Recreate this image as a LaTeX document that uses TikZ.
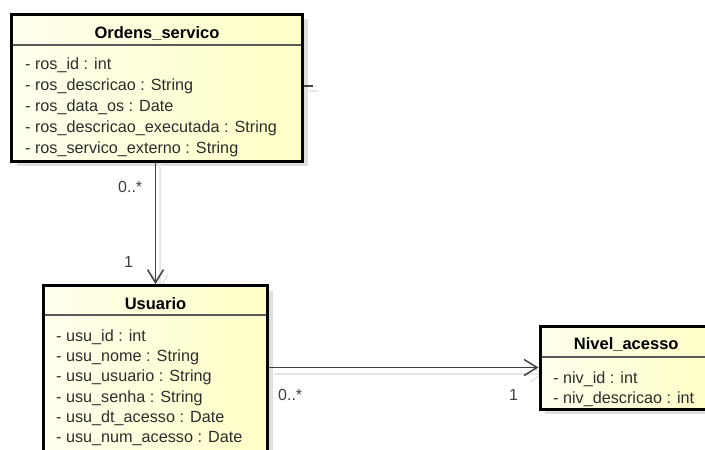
\documentclass[tikz,border=0pt]{standalone}
\usepackage{fontspec}
\setmainfont{Liberation Sans}
\usetikzlibrary{arrows.meta,shadows}
\definecolor{boxlight}{RGB}{255,255,238}
\definecolor{boxdeep}{RGB}{255,255,198}
\definecolor{shadowgray}{RGB}{222,222,222}
\definecolor{linkgray}{RGB}{64,64,64}
\definecolor{ghost}{RGB}{230,230,230}
\definecolor{txtgray}{RGB}{45,45,45}
\definecolor{sepgray}{RGB}{90,90,90}

\begin{document}
\begin{tikzpicture}[x=1pt,y=-1pt,
  classbox/.style={draw=black, line width=3pt, rectangle, inner sep=0pt,
    anchor=north west, left color=boxlight, right color=boxdeep,
    drop shadow={shadow xshift=5pt, shadow yshift=-5pt, fill=shadowgray, opacity=1}},
  sepline/.style={draw=sepgray, line width=1.2pt, shorten <=3pt, shorten >=3pt},
  title/.style={font=\bfseries\fontsize{16.5}{19}\selectfont, anchor=base, inner sep=0pt},
  attr/.style={font=\fontsize{16.2}{18}\selectfont, text=txtgray, anchor=base west, inner sep=0pt},
  mult/.style={font=\fontsize{16}{18}\selectfont, text=linkgray, anchor=base west, inner sep=0pt},
  link/.style={draw=linkgray, line width=1.5pt},
  ghostlink/.style={draw=ghost, line width=1.5pt},
  openhead/.style={-{Straight Barb[length=13pt, width=16pt, line width=1.5pt]}}
]
\useasboundingbox (0,0) rectangle (705,450);
\clip (0,0) rectangle (705,450);

% faint connector shadows
\coordinate (stub) at (313,86);
\draw[ghostlink] (309,91) -- (318,91);
\draw[ghostlink, openhead] (160,167) -- (160,289);
\draw[ghostlink, openhead] (274,374) -- (544,374);

% class boxes
\node[classbox, minimum width=291pt, minimum height=147pt] (os) at (10,12.5) {};
\node[classbox, minimum width=224pt, minimum height=183pt] (usu) at (42,284) {};
\node[classbox, minimum width=172.5pt, minimum height=83pt] (niv) at (538.5,324.5) {};

% header separators
\draw[sepline] (os.west |- 0,45) -- (os.east |- 0,45);
\draw[sepline] (usu.west |- 0,315) -- (usu.east |- 0,315);
\draw[sepline] (niv.west |- 0,357) -- (niv.east |- 0,357);

% titles
\node[title] (os-title) at (os.north |- 0,38) {Ordens\_servico};
\node[title] (usu-title) at (usu.north |- 0,309) {Usuario};
\node[title] (niv-title) at (niv.north |- 0,349) {Nivel\_acesso};

% attributes
\foreach \t [count=\i] in {- ros\_id : int, - ros\_descricao : String, - ros\_data\_os : Date,
    - ros\_descricao\_executada : String, - ros\_servico\_externo : String}
  \node[attr] (os-a\i) at (25, 48+21*\i) {\t};
\foreach \t [count=\i] in {- usu\_id : int, - usu\_nome : String, - usu\_usuario : String,
    - usu\_senha : String, - usu\_dt\_acesso : Date, - usu\_num\_acesso : Date}
  \node[attr] (usu-a\i) at (56, 321+20.3*\i) {\t};
\foreach \t [count=\i] in {- niv\_id : int, - niv\_descricao : int}
  \node[attr] (niv-a\i) at (553, 363+20*\i) {\t};

% associations
\draw[link] (os.east |- stub) -- (stub);
\draw[link, openhead] (os.south -| usu.north) -- (usu.north);
\draw[link, openhead] (niv.west -| usu.east) -- (niv.west);

% multiplicities
\node[mult] (m1) at (118,192) {0..*};
\node[mult] (m2) at (124,267) {1};
\node[mult] (m3) at (278,400) {0..*};
\node[mult] (m4) at (509,400) {1};
\end{tikzpicture}
\end{document}
